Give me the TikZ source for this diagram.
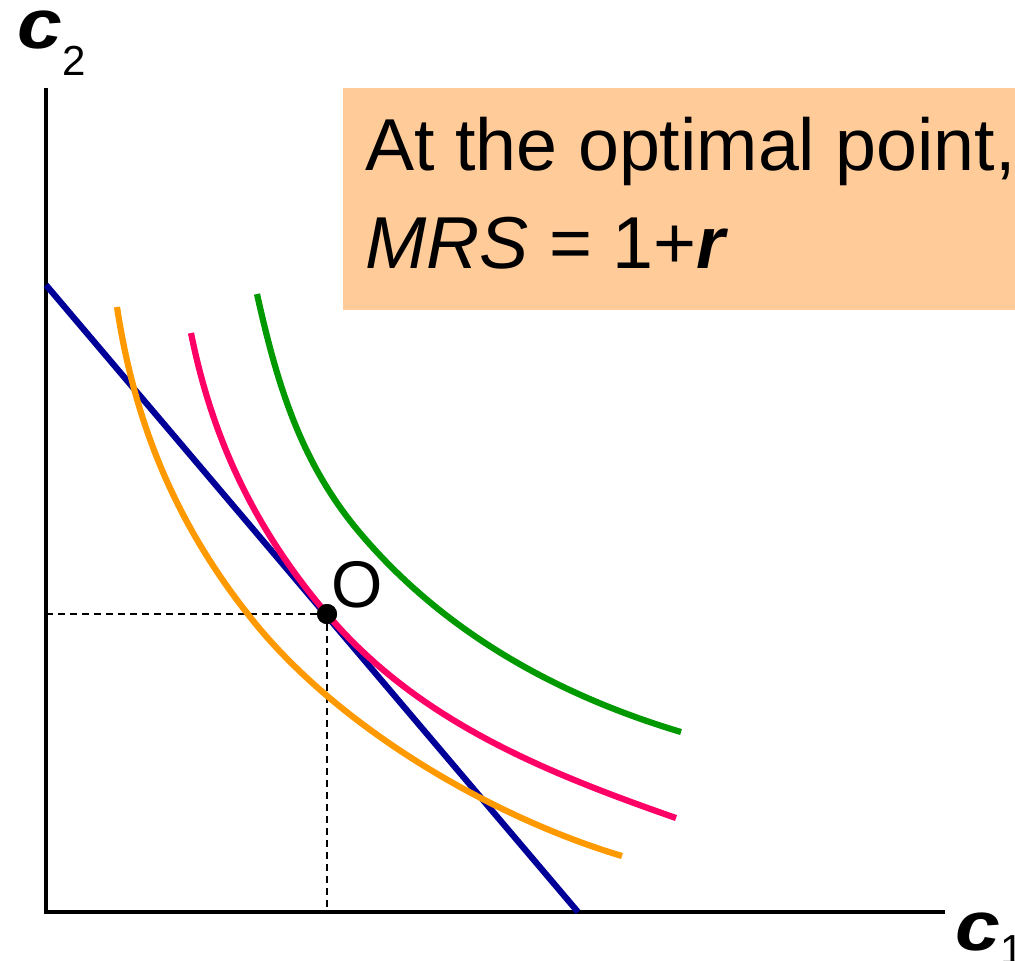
\documentclass[tikz,border=0pt]{standalone}
\usepackage{fontspec}
\setmainfont{Liberation Sans}
\usepackage{tikz}
\usetikzlibrary{positioning}
\definecolor{budgetblue}{RGB}{0, 0, 153}
\definecolor{icpink}{RGB}{255, 0, 102}
\definecolor{icorange}{RGB}{255, 153, 0}
\definecolor{icgreen}{RGB}{0, 153, 0}
\definecolor{notebg}{RGB}{255, 204, 153}
\newcommand\notefont{\fontsize{36.8}{49}\selectfont}
\newcommand\axfont{\fontsize{35}{35}\selectfont}
\newcommand\subfont{\fontsize{21}{21}\selectfont}
\newcommand\axc{\scalebox{1.15}[1]{\textbf{\textit{c}}}}
\tikzset{
  axis/.style    = {draw=black, line width=1.6pt},
  budget/.style  = {draw=budgetblue, line width=3.1pt},
  icurve/.style  = {draw=#1, line width=3.1pt},
  icurve/.default = icpink,
  guide/.style   = {draw=black, line width=1.1pt, dash pattern=on 3.5pt off 2.5pt},
  dot/.style     = {circle, fill=black, inner sep=0pt, minimum size=10pt},
  axlabel/.style = {anchor=base west, inner sep=0pt, font=\axfont},
  notebox/.style = {rectangle, fill=notebg, minimum width=336pt,
                    minimum height=111pt, inner sep=0pt},
  notetext/.style = {anchor=base west, inner sep=0pt, align=left,
                     font=\notefont},
}
\begin{document}
\begin{tikzpicture}[x=0.5pt, y=-0.5pt]
  \useasboundingbox (0,0) rectangle (1015,960);

  % axes
  \coordinate (orig) at (46,912);
  \coordinate (ytop) at (46,88);
  \coordinate (xend) at (945,912);
  \draw[axis] (ytop) -- (orig) -- (xend);

  \node[axlabel] (c2lbl) at (17,48) {\axc\raisebox{-13.5pt}{\subfont 2}};
  \node[axlabel] (c1lbl) at (955,950) {\axc\raisebox{-7pt}{\subfont 1}};

  % optimum and guides
  \node[dot] (opt) at (327,614) {};
  \draw[guide] (opt -| orig) -- (opt);
  \draw[guide] (opt) -- (opt |- orig);

  % budget line
  \coordinate (bl1) at (46,285);
  \coordinate (bl2) at (578,912);
  \draw[budget] (bl1) -- (bl2);

  % indifference curves
  \draw[icurve=icorange] (117,307) .. controls (134,420) and (174,520)
    .. (247,613) .. controls (332.4,724) and (487.9,815.8) .. (622,856);
  \draw[icurve=icpink] (191,333) .. controls (212.6,440.8) and (255.8,530.2)
    .. (opt.center) .. controls (417.6,720.7) and (543.8,771.8) .. (676,818);
  \draw[icurve=icgreen] (257,294) .. controls (277,383.8) and (300.6,462.8)
    .. (360,533) .. controls (444,632.2) and (556.5,694.7) .. (681,732);

  \node[dot] at (opt) {};
  \node[above right=-1pt and -1.5pt of opt, inner sep=0pt,
        font=\fontsize{33}{33}\selectfont] (olbl) {O};

  % note
  \node[notebox] (note) at (679,199) {};
  \node[notetext] (msg) at (365,268)
    {At the optimal point,\\\textit{MRS} = 1+\textbf{\textit{r}}};
\end{tikzpicture}
\end{document}
